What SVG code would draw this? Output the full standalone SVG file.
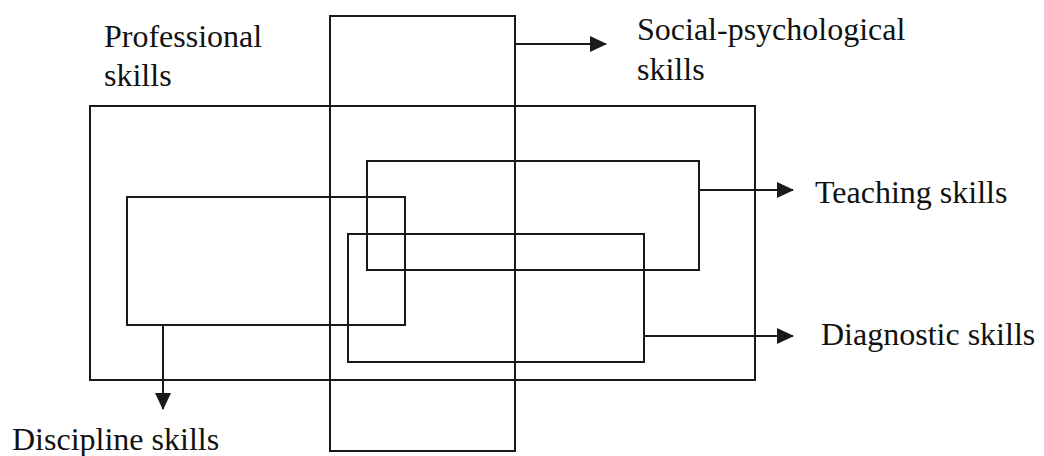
<svg xmlns="http://www.w3.org/2000/svg" width="1044" height="456" viewBox="0 0 1044 456">
<style>
.box{fill:none;stroke:#1a1a1a;stroke-width:2}
.conn{fill:none;stroke:#1a1a1a;stroke-width:2}
.lbl{font-family:"Liberation Serif","Times New Roman",serif;font-size:32px;fill:#111}
</style>
<defs>
<marker id="ah" markerUnits="userSpaceOnUse" markerWidth="17" markerHeight="16" refX="16" refY="8" orient="auto">
<path d="M0,0 L17,8 L0,16 Z" fill="#1a1a1a"/>
</marker>
</defs>
<rect width="1044" height="456" fill="#ffffff"/>
<g id="professional">
<rect class="box" x="90" y="106" width="665" height="274"/>
<text class="lbl" x="104" y="47">Professional</text>
<text class="lbl" x="104" y="86">skills</text>
</g>
<g id="social-psychological">
<rect class="box" x="330" y="16" width="185" height="435"/>
<text class="lbl" x="637" y="40">Social-psychological</text>
<text class="lbl" x="637" y="80">skills</text>
</g>
<g id="teaching">
<rect class="box" x="367" y="161" width="332" height="109"/>
<text class="lbl" x="815" y="203">Teaching skills</text>
</g>
<g id="discipline">
<rect class="box" x="127" y="197" width="278" height="128"/>
<text class="lbl" x="12" y="450">Discipline skills</text>
</g>
<g id="diagnostic">
<rect class="box" x="348" y="234" width="296" height="128"/>
<text class="lbl" x="821" y="345">Diagnostic skills</text>
</g>
<g id="connectors">
<line class="conn" x1="515" y1="44" x2="606" y2="44" marker-end="url(#ah)"/>
<line class="conn" x1="699" y1="190" x2="793" y2="190" marker-end="url(#ah)"/>
<line class="conn" x1="644" y1="336" x2="793" y2="336" marker-end="url(#ah)"/>
<line class="conn" x1="163" y1="325" x2="163" y2="409" marker-end="url(#ah)"/>
</g>
</svg>
